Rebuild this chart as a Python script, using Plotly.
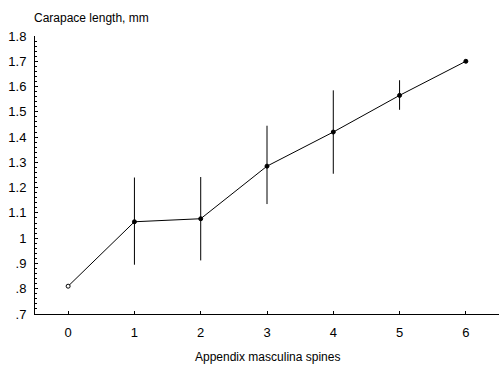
import plotly.graph_objects as go

spines = [0, 1, 2, 3, 4, 5, 6]
carapace_mean = [0.81, 1.065, 1.077, 1.285, 1.42, 1.565, 1.70]
err_upper = [0, 0.175, 0.165, 0.16, 0.165, 0.06, 0]
err_lower = [0, 0.17, 0.165, 0.15, 0.165, 0.057, 0]
y_tickvals = [0.7, 0.8, 0.9, 1.0, 1.1, 1.2, 1.3, 1.4, 1.5, 1.6, 1.7, 1.8]
y_ticktext = [".7", ".8", ".9", "1", "1.1", "1.2", "1.3", "1.4", "1.5", "1.6", "1.7", "1.8"]
x_tickvals = [0, 1, 2, 3, 4, 5, 6]

FONT = "Liberation Sans, Arial, Helvetica, sans-serif"

fig = go.Figure()
fig.add_trace(go.Scatter(
    x=spines, y=carapace_mean, mode="lines+markers",
    line=dict(color="black", width=1),
    marker=dict(size=4, color=["white"] + ["black"] * 6,
                line=dict(color="black", width=1)),
    error_y=dict(type="data", symmetric=False, array=err_upper,
                 arrayminus=err_lower, color="black", thickness=1, width=0),
    showlegend=False,
))

fig.update_layout(
    width=501, height=366,
    margin=dict(l=35, r=2, t=36, b=52),
    paper_bgcolor="white", plot_bgcolor="white",
    font=dict(family=FONT, size=13, color="black"),
    xaxis=dict(range=[-0.5, 6.5], tickvals=x_tickvals, showgrid=False,
               zeroline=False, showline=True, linecolor="black", linewidth=1,
               ticks="inside", ticklen=3, tickcolor="black", automargin=False,
               tickfont=dict(size=13), ticklabelstandoff=6),
    yaxis=dict(range=[0.7, 1.8], tickvals=y_tickvals, ticktext=y_ticktext,
               showgrid=False, zeroline=False, showline=True, linecolor="black",
               linewidth=1, ticks="inside", ticklen=3, tickcolor="black",
               tickfont=dict(size=13), ticklabelstandoff=5, automargin=False,
               minor=dict(dtick=0.02, tick0=0.7, ticks="inside", ticklen=2,
                          tickcolor="black", showgrid=False)),
    annotations=[
        dict(text="Carapace length, mm", x=-0.5, y=1.8, xref="x", yref="y",
             xanchor="left", yanchor="bottom", yshift=9, xshift=-3, showarrow=False,
             font=dict(size=12)),
        dict(text="Appendix masculina spines", x=0.5, y=0, xref="paper", yref="paper",
             xanchor="center", yanchor="top", yshift=-34, showarrow=False,
             font=dict(size=12)),
    ],
)

fig.write_html("out.html", config={"displayModeBar": False},
               post_script="document.body.style.margin='0';")
